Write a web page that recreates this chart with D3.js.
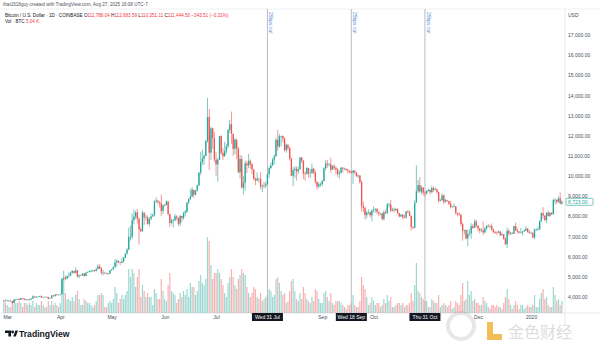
<!DOCTYPE html>
<html>
<head>
<meta charset="utf-8">
<script src="https://cdn.jsdelivr.net/npm/d3@7"></script>
<style>
  body { margin: 0; background: #fff; }
  svg text { font-family: "Liberation Sans", Arial, sans-serif; }
</style>
</head>
<body>
<div class="g-chart"></div>
<script>
// daily BTC/USD candles, Coinbase, 27 Feb 2019 -> 19 Jan 2020
var startDate = "2019-02-27";
var firstOpen = 3800;

var closes = [
  3820,3810,
  3820,3820,3790,3710,3860,3870,3880,3860,3940,3920,3860,3880,3870,3870,3920,4030,3990,3990,4020,4050,3980,4000,4010,4000,3920,3940,4080,4040,4120,4110,4110,
  4140,4900,4960,4910,5040,5060,5200,5290,5200,5330,5020,5080,5080,5160,5040,5210,5240,5280,5280,5330,5290,5380,5520,5420,5200,5210,5190,5150,5160,5320,
  5370,5480,5720,5800,5720,5690,5760,5940,6150,6350,6990,6990,7810,7990,8200,7880,7350,7260,8190,7950,7950,7630,7880,8000,8060,8730,8780,8720,8660,8270,8550,
  8560,8740,8120,7680,7790,7800,8000,7930,7640,8020,7920,8160,8230,8690,8860,8980,9320,9080,9280,9530,10170,10700,10860,11000,11740,12930,11160,12370,11880,10830,
  10580,10800,11980,11150,10980,11240,11470,12290,12570,12100,11350,11800,11380,10190,10850,9430,9670,10630,10530,10760,10590,10330,9850,9770,9880,9850,9480,9530,9520,9590,10090,
  10400,10530,10820,10980,11800,11470,11980,11990,11860,11290,11560,11390,10860,10020,10300,10360,10230,10340,10920,10760,10130,10110,10400,10140,10140,10360,10170,9720,9490,9590,9600,
  9760,10380,10620,10580,10580,10320,10490,10410,10330,10100,10160,10420,10360,10360,10310,10260,10190,10160,10270,10180,9990,10030,9700,8530,8430,8060,8190,8210,8050,8300,
  8330,8380,8230,8150,8150,7870,8210,8180,8590,8590,8280,8340,8300,8370,8160,8000,8080,7960,7950,8240,8220,8030,7470,7440,8680,9250,9550,9230,9430,9170,9150,
  9260,9310,9200,9410,9310,9340,9200,8770,8810,9040,8720,8800,8760,8630,8460,8490,8500,8170,8120,8080,7620,7280,7320,6900,7130,7160,7510,7430,7750,7540,
  7400,7300,7300,7200,7390,7530,7510,7520,7340,7220,7200,7190,7250,7070,7110,6880,6620,7280,7150,7190,7140,7520,7320,7250,7200,7200,7250,7300,7390,7220,7170,
  7180,6950,7340,7350,7350,7760,8160,8040,7820,8190,8020,8180,8110,8810,8820,8710,8900,8640,8723
];
var highs = [
  3850,3890,
  3860,3840,3830,3800,3880,3900,3910,3950,3960,3950,3930,3900,3890,3920,3940,4080,4040,4050,4040,4060,4080,4010,4020,4010,4010,3960,4100,4080,4140,4160,4120,
  4160,4950,5300,5070,5060,5240,5260,5350,5290,5470,5340,5110,5120,5180,5200,5230,5270,5320,5340,5350,5340,5450,5620,5630,5480,5340,5220,5210,5200,5340,
  5400,5520,5890,5850,5800,5740,5970,5990,6170,6430,7450,7550,8150,8340,8280,8370,7950,7460,8290,8190,8090,8050,7950,8150,8140,8810,8950,8820,8740,9090,8580,
  8630,8800,8750,8130,7900,7870,8120,8060,7950,8080,8030,8230,8330,8700,8900,9350,9460,9340,9310,9580,10200,11200,11300,11100,11790,13880,13330,12440,12400,12200,
  11200,10900,11990,12020,11400,11700,11600,12350,12800,13200,12100,11900,11840,11450,11060,11020,9990,10770,10740,11100,10830,10660,10350,9930,10180,9890,10200,9580,9720,9720,10120,
  10480,10680,10900,11080,11900,12300,12090,12000,12020,11930,11600,11560,11450,10920,10440,10500,10480,10470,10950,10950,10800,10230,10450,10410,10340,10620,10400,10280,9730,9690,9680,
  9800,10450,10790,10800,10650,10910,10550,10590,10480,10390,10280,10450,10440,10420,10380,10370,10270,10280,10300,10260,10190,10080,10040,9800,8730,8470,8260,8350,8230,8340,
  8500,8390,8390,8250,8170,8170,8300,8330,8670,8660,8820,8430,8430,8410,8400,8170,8120,8110,8090,8270,8320,8300,8040,7510,8800,10540,9800,9950,9530,9440,9250,
  9300,9380,9330,9530,9470,9440,9370,9230,8880,9140,9070,8880,8820,8780,8770,8530,8640,8510,8180,8210,8120,7700,7350,7330,7360,7360,7660,7620,7850,7830,
  7540,7420,7400,7750,7490,7560,7620,7570,7650,7400,7280,7260,7300,7270,7200,7130,6950,7440,7370,7220,7190,7520,7700,7430,7280,7430,7270,7360,7520,7420,7320,
  7250,7210,7400,7400,7500,7800,8200,8460,8050,8200,8290,8200,8200,8880,8900,8850,9000,9190,8800
];
var lows = [
  3700,3780,
  3800,3780,3760,3680,3700,3830,3850,3830,3850,3890,3840,3820,3850,3820,3860,3910,3970,3960,3980,4000,3950,3970,3990,3970,3880,3910,3930,4020,4030,4070,4090,
  4080,4140,4820,4830,4900,4950,5060,5160,5150,5180,4960,4930,5050,5040,5000,5030,5190,5230,5220,5260,5230,5270,5370,5400,5100,5060,5150,5130,5100,5150,
  5310,5360,5470,5520,5680,5580,5700,5720,5930,6120,6340,6800,6870,7620,7860,7650,6600,7230,7260,7580,7800,7580,7500,7800,7980,8000,8660,8590,8440,8020,8120,
  8500,8550,8050,7480,7600,7450,7770,7810,7530,7510,7720,7830,8000,8170,8610,8820,8970,8930,9040,9230,9520,10050,10540,10550,10990,11660,10300,10800,11350,10700,
  10000,9720,10830,11080,10800,10980,11100,11360,12130,11600,11000,11080,10850,10150,9880,9370,9090,9280,10150,10400,10370,10100,9820,9550,9760,9660,9350,9200,9400,9400,9580,
  9900,10350,10500,10580,10960,11250,11400,11480,11670,11210,11150,11250,10770,9990,9500,9900,9780,10100,10320,10630,9850,9770,10070,9920,9910,10140,10080,9620,9330,9400,9470,
  9500,9730,10280,10420,10470,10160,10300,10300,10080,9960,9870,10130,10170,10300,10260,10120,10150,10120,9600,10070,9960,9900,9630,8250,8200,7850,7900,8100,7960,7750,
  8200,8180,8100,8000,8040,7800,7780,8110,8110,8450,8220,8270,8190,8280,8110,7950,7960,7860,7900,7880,8160,8000,7300,7370,7400,8720,9150,9180,9110,9030,8980,
  9080,9230,9080,9160,9200,9280,9120,8680,8750,8770,8600,8680,8720,8560,8390,8440,8430,8070,8000,8050,7500,6800,7100,6860,6520,7030,6880,7380,7420,7470,
  7260,7160,7240,7080,7170,7320,7470,7400,7270,7160,7130,7080,7180,7020,7030,6840,6560,6430,7040,7080,7110,7140,7270,7160,7140,7160,7060,7240,7280,7200,7150,
  7150,6920,6870,7270,7310,7350,7720,7880,7760,7670,8000,7970,8060,8100,8600,8610,8700,8600,8560
];
// volume, thousand BTC
var volumes = [
  5,5,
  4,3,3,6,7,5,5,6,5,3,5,5,4,5,4,6,3,5,4,4,6,4,3,3,6,4,6,4,5,4,3,
  5,16,17,10,7,7,6,8,6,9,11,7,4,4,7,6,5,5,4,3,4,6,9,9,10,9,3,3,5,6,
  5,7,13,10,5,7,9,7,9,11,22,18,22,20,13,18,22,8,14,11,8,10,8,8,4,12,10,7,7,17,11,
  7,6,14,20,11,10,9,5,7,10,8,11,9,12,8,15,13,13,9,11,16,19,15,14,17,38,36,24,17,20,
  20,22,20,17,14,10,8,15,18,22,18,14,12,17,19,22,20,19,13,10,8,10,13,12,8,7,10,6,7,8,9,
  12,11,8,9,17,18,15,11,9,10,5,6,11,16,17,11,7,6,10,7,13,10,7,6,5,8,6,12,11,7,5,
  5,10,11,8,6,10,5,4,6,6,6,5,4,3,2,4,4,5,9,4,3,3,6,18,14,12,8,4,5,8,
  6,4,5,5,3,4,7,5,9,6,8,3,3,4,5,5,4,5,3,4,4,5,10,6,14,25,11,10,8,7,6,
  6,3,3,7,6,5,5,9,3,4,5,4,3,4,6,2,3,6,5,4,9,15,6,7,16,9,11,6,7,5,
  5,4,4,8,6,5,3,2,4,4,3,4,3,3,2,5,8,12,7,4,2,4,6,4,2,4,4,2,3,4,3,
  3,4,9,3,3,7,10,12,7,8,4,3,3,13,9,6,7,4,6
];

var priceTicks = [4000,5000,6000,7000,8000,9000,10000,11000,12000,13000,14000,15000,16000,17000];
var tickDates = ["2019-03-01","2019-04-01","2019-05-01","2019-06-01","2019-07-01","2019-09-01","2019-10-01","2019-12-01","2020-01-01"];
var tickLabels = ["Mar","Apr","May","Jun","Jul","Sep","Oct","Dec","2020"];
var cutDates = ["2019-07-31","2019-09-18","2019-10-31"];
var cutLabels = ["Wed 31 Jul","Wed 18 Sep","Thu 31 Oct"];

function chart(){
  var W = 600, H = 345;
  var paneTop = 9, paneBottom = 313, axisX = 565;
  var up = "#26a69a", down = "#ef5350";
  var parse = d3.utcParse("%Y-%m-%d");

  var svg = d3.select(".g-chart").html("")
      .append("svg")
      .attr("width", W)
      .attr("height", H);

  var x = d3.scaleUtc()
      .domain([parse("2019-03-01"), parse("2020-01-01")])
      .range([7.2, 531.1]);
  var y = d3.scaleLinear()
      .domain([4000, 17000])
      .range([297, 35]);
  var yVol = d3.scaleLinear()
      .domain([0, d3.max(volumes)])
      .range([paneBottom, 237]);

  var start = parse(startDate);
  var data = closes.map(function(c, i){
    var o = i === 0 ? firstOpen : closes[i - 1];
    return {
      date: d3.utcDay.offset(start, i),
      o: o, c: c,
      h: Math.max(highs[i], o, c),
      l: Math.min(lows[i], o, c),
      v: volumes[i]
    };
  });

  // pane borders
  svg.append("line").attr("x1", 0).attr("x2", W).attr("y1", paneTop).attr("y2", paneTop)
      .attr("stroke", "#e6e7ea").attr("stroke-width", 0.6);
  svg.append("line").attr("x1", 0).attr("x2", W).attr("y1", paneBottom).attr("y2", paneBottom)
      .attr("stroke", "#e0e3eb").attr("stroke-width", 0.8);
  svg.append("line").attr("x1", axisX).attr("x2", axisX).attr("y1", paneTop).attr("y2", paneBottom + 12)
      .attr("stroke", "#e0e3eb").attr("stroke-width", 0.8);

  // watermark (bottom right)
  var wm = svg.append("g").attr("class", "wm");
  wm.append("circle").attr("cx", 461).attr("cy", 326).attr("r", 13)
      .attr("fill", "none").attr("stroke", "#d4d4d4").attr("stroke-width", 4).attr("opacity", 0.55);
  wm.append("path").attr("d", "M487,322 h6 v12 h9 v6 h-15 z").attr("fill", "#f3b23b").attr("opacity", 0.85);
  wm.append("text").attr("x", 508).attr("y", 338).text("金色财经")
      .style("font-family", "'Noto Sans CJK SC'").style("font-size", "16px")
      .attr("fill", "#cfcfcf").attr("opacity", 0.7);

  // volume bars
  svg.append("g").selectAll("rect")
    .data(data)
    .enter().append("rect")
      .attr("x", function(d){ return x(d.date) - 0.6; })
      .attr("width", 1.2)
      .attr("y", function(d){ return yVol(d.v); })
      .attr("height", function(d){ return paneBottom - yVol(d.v); })
      .attr("fill", function(d){ return d.c >= d.o ? up : down; })
      .attr("opacity", 0.45);

  // rate cut markers
  var cuts = svg.append("g");
  cutDates.forEach(function(s){
    var cx = x(parse(s));
    cuts.append("line").attr("x1", cx).attr("x2", cx).attr("y1", paneTop).attr("y2", paneBottom)
        .attr("stroke", "#a8abb3").attr("stroke-width", 0.8);
    cuts.append("text")
        .attr("transform", "translate(" + (cx + 2) + ",12) rotate(90)")
        .text("25bps cut")
        .style("font-size", "5px")
        .attr("fill", "#5b8fd6");
  });

  // candles
  var candle = svg.append("g").selectAll("g")
    .data(data)
    .enter().append("g")
      .attr("fill", function(d){ return d.c >= d.o ? up : down; })
      .attr("stroke", function(d){ return d.c >= d.o ? up : down; });
  candle.append("line")
      .attr("x1", function(d){ return x(d.date); })
      .attr("x2", function(d){ return x(d.date); })
      .attr("y1", function(d){ return y(d.h); })
      .attr("y2", function(d){ return y(d.l); })
      .attr("stroke-width", 0.6);
  candle.append("rect")
      .attr("x", function(d){ return x(d.date) - 0.65; })
      .attr("width", 1.3)
      .attr("y", function(d){ return y(Math.max(d.o, d.c)); })
      .attr("height", function(d){ return Math.max(0.6, Math.abs(y(d.o) - y(d.c))); })
      .attr("stroke", "none");

  // price axis
  var yAxis = svg.append("g")
      .attr("transform", "translate(" + axisX + ",0)")
      .call(d3.axisRight(y).tickValues(priceTicks).tickFormat(d3.format(",.2f")).tickSize(0).tickPadding(3));
  yAxis.select(".domain").remove();
  yAxis.selectAll("text").style("font-size", "5px").attr("fill", "#4a4e59")
      .style("font-family", "'Liberation Sans', Arial, sans-serif");
  svg.append("text").attr("x", 568).attr("y", 17).text("USD")
      .style("font-size", "5px").attr("fill", "#4a4e59");

  // last price label
  var last = data[data.length - 1];
  svg.append("rect").attr("x", 566).attr("y", y(last.c) - 3.5).attr("width", 27).attr("height", 7)
      .attr("fill", "#fff").attr("stroke", up).attr("stroke-width", 0.6).attr("rx", 1);
  svg.append("text").attr("x", 568).attr("y", y(last.c) + 1.8).text(d3.format(",.2f")(last.c))
      .style("font-size", "5px").attr("fill", up);

  // time axis
  var xAxis = svg.append("g")
      .attr("transform", "translate(0," + paneBottom + ")")
      .call(d3.axisBottom(x).tickValues(tickDates.map(parse))
        .tickFormat(function(d, i){ return tickLabels[i]; }).tickSize(0).tickPadding(2.5));
  xAxis.select(".domain").remove();
  xAxis.selectAll("text").style("font-size", "5px").attr("fill", "#4a4e59")
      .style("font-family", "'Liberation Sans', Arial, sans-serif");

  cutDates.forEach(function(s, i){
    var cx = x(parse(s));
    svg.append("rect").attr("x", cx - 15.5).attr("y", paneBottom).attr("width", 31).attr("height", 8)
        .attr("fill", "#131722");
    svg.append("text").attr("x", cx).attr("y", paneBottom + 5.8).attr("text-anchor", "middle")
        .text(cutLabels[i]).style("font-size", "5px").attr("fill", "#fff");
  });

  // header
  svg.append("text").attr("x", 3).attr("y", 6.3)
      .text("that1618guy created with TradingView.com, Aug 27, 2025 16:08 UTC-7")
      .style("font-size", "4.6px").attr("fill", "#50535e");

  var red = "#f23645", ink = "#131722";
  var legend = [
    ["Bitcoin / U.S. Dollar · 1D · COINBASE ", ink],
    ["O", ink], ["111,788.04 ", red],
    ["H", ink], ["112,683.59 ", red],
    ["L", ink], ["110,351.11 ", red],
    ["C", ink], ["111,444.50 ", red],
    ["−343.51 (−0.31%)", red]
  ];
  var l1 = svg.append("text").attr("x", 5).attr("y", 16.8).style("font-size", "4.6px").attr("xml:space", "preserve");
  legend.forEach(function(p){ l1.append("tspan").text(p[0]).attr("fill", p[1]); });
  var l2 = svg.append("text").attr("x", 5).attr("y", 23).style("font-size", "4.6px").attr("xml:space", "preserve");
  l2.append("tspan").text("Vol · BTC ").attr("fill", ink);
  l2.append("tspan").text("5.04 K").attr("fill", red);

  // TradingView logo
  var logo = svg.append("g").attr("fill", "#131722");
  logo.append("path").attr("d", "M5,330.5 h6 v6 h-2.6 v-3.5 h-3.4 z");
  logo.append("circle").attr("cx", 12.6).attr("cy", 332).attr("r", 1.4);
  logo.append("path").attr("d", "M13.2,336.5 l2.2,-6 h2.6 l-2.2,6 z");
  logo.append("text").attr("x", 19).attr("y", 336.6).text("TradingView")
      .style("font-size", "8.6px").style("font-weight", "bold");
}

chart();
</script>
</body>
</html>
